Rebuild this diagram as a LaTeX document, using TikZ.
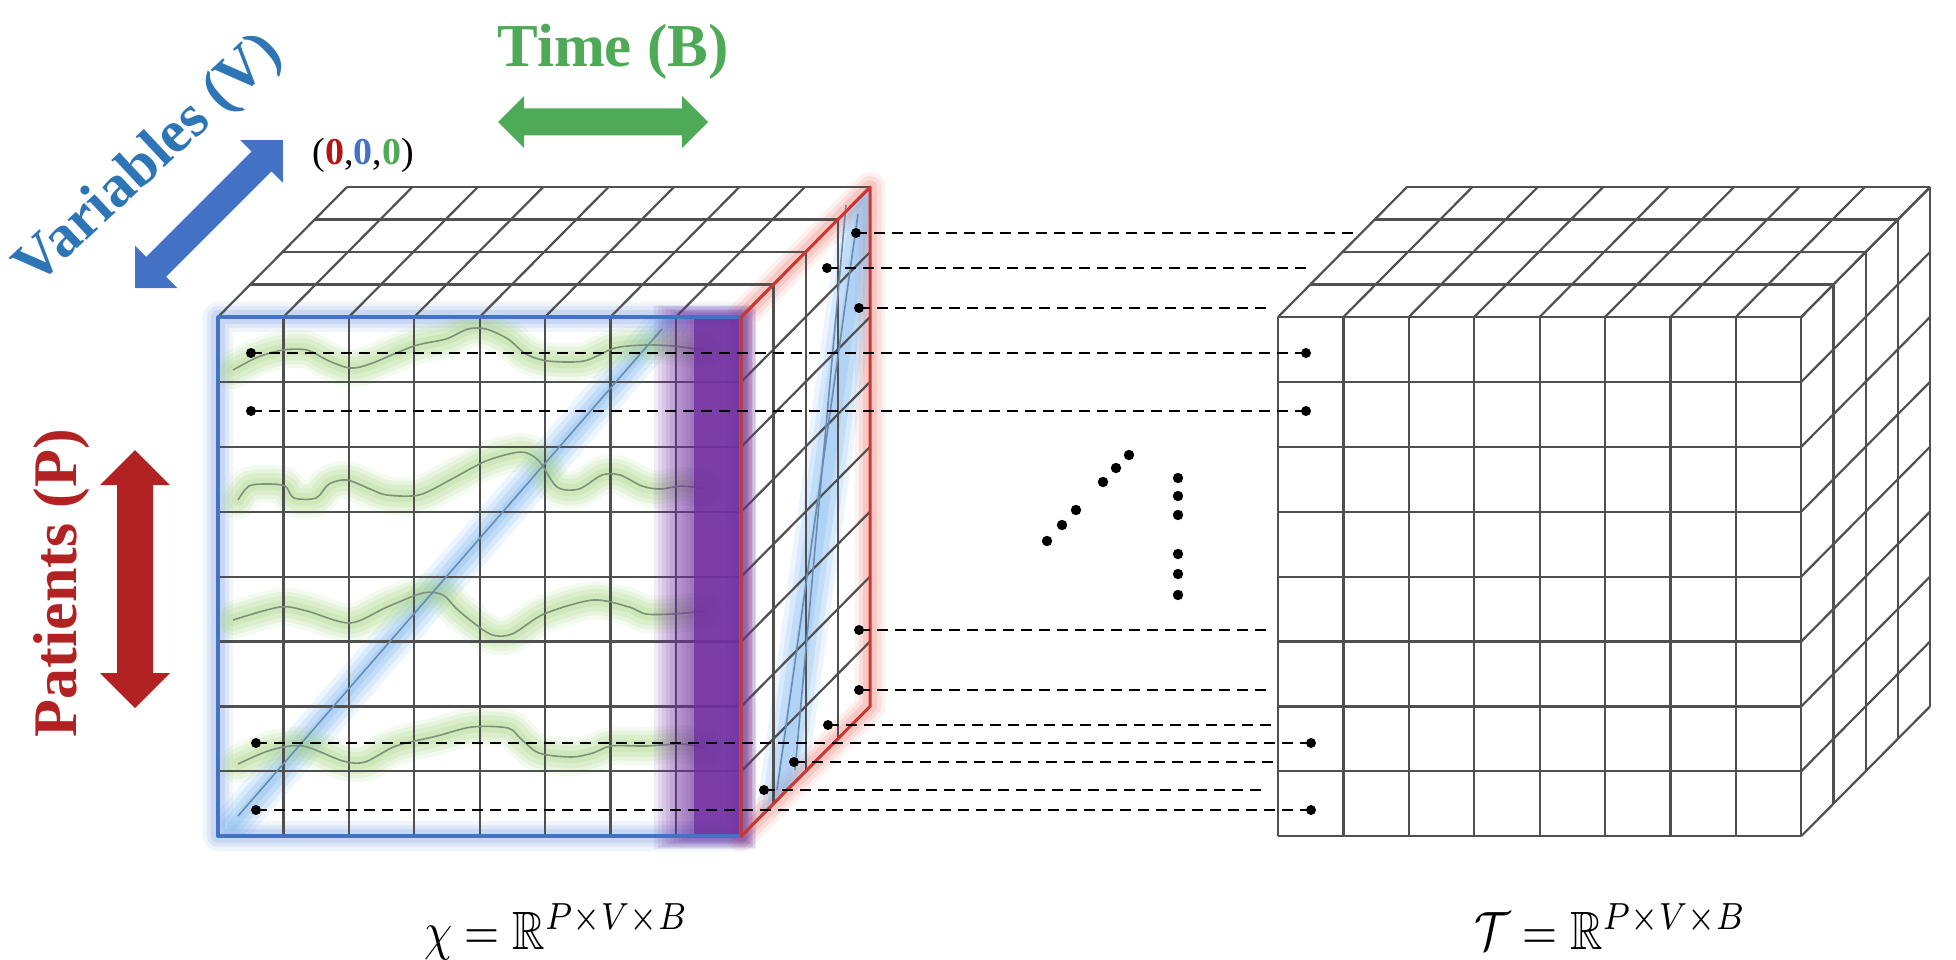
\documentclass[tikz,border=0pt]{standalone}
\usepackage{fontspec}
\setmainfont{Liberation Serif}
\usepackage{amssymb}
\usetikzlibrary{calc}
\definecolor{cgrid}{RGB}{80,80,80}
\definecolor{cgreen}{RGB}{78,170,86}
\definecolor{cblueT}{RGB}{46,117,182}
\definecolor{cblue}{RGB}{68,114,196}
\definecolor{cred}{RGB}{178,34,34}
\definecolor{czred}{RGB}{180,20,20}
\definecolor{credline}{RGB}{205,55,50}
\definecolor{cpurple}{RGB}{112,48,160}
\definecolor{cgreenglow}{RGB}{160,210,120}
\definecolor{cblueglow}{RGB}{120,180,238}
\definecolor{cframeglow}{RGB}{110,150,225}
\definecolor{credglow}{RGB}{235,110,100}
\definecolor{cwave}{RGB}{125,145,125}
\definecolor{cdiag}{RGB}{105,140,175}
\newcommand\cellw{65.4}
\newcommand\cellh{64.9}
\newcommand\dpx{32.25}
\newcommand\dpy{32.5}
\newcommand\drawcubegrid[2]{%
 \foreach \i in {0,...,8}{
   \draw[gridline] ({#1+\i*\cellw},{#2}) -- ({#1+\i*\cellw},{#2+8*\cellh});
   \draw[gridline] ({#1},{#2+\i*\cellh}) -- ({#1+8*\cellw},{#2+\i*\cellh});
   \draw[gridline] ({#1+\i*\cellw},{#2}) -- ({#1+\i*\cellw+4*\dpx},{#2-4*\dpy});
   \draw[gridline] ({#1+8*\cellw},{#2+\i*\cellh}) -- ({#1+8*\cellw+4*\dpx},{#2+\i*\cellh-4*\dpy});
 }
 \foreach \k in {1,...,4}{
   \draw[gridline] ({#1+\k*\dpx},{#2-\k*\dpy}) -- ({#1+8*\cellw+\k*\dpx},{#2-\k*\dpy});
   \draw[gridline] ({#1+8*\cellw+\k*\dpx},{#2-\k*\dpy}) -- ({#1+8*\cellw+\k*\dpx},{#2+8*\cellh-\k*\dpy});
 }
}
\newcommand\dblarrow[4]{\fill[#1] (0,0) -- (#4,-#4) -- (#4,-#3) -- ({#2-#4},-#3) -- ({#2-#4},-#4) -- (#2,0) -- ({#2-#4},#4) -- ({#2-#4},#3) -- (#4,#3) -- (#4,#4) -- cycle;}
\tikzset{
 gridline/.style={draw=cgrid, line width=2.2pt},
 dashline/.style={draw=black, line width=2.2pt, dash pattern=on 11pt off 7pt},
 dotmark/.style={fill=black},
 biglab/.style={inner sep=0pt, font=\fontsize{60}{72}\selectfont\bfseries},
 mathlab/.style={inner sep=0pt, anchor=base west},
 waveA/.style={insert path={plot[smooth] coordinates {(233,370) (258,357) (283,350) (307,350) (329,361) (350,368) (370,364) (414,346) (446,339) (468,329) (486,329) (508,339) (526,354) (548,361) (584,361) (615,348) (646,345) (673,346) (704,350)}}},
 waveB/.style={insert path={plot[smooth] coordinates {(238,500) (249,486) (267,484) (285,486) (294,498) (316,498) (329,484) (347,480) (370,489) (387,495) (419,495) (450,480) (486,461) (521,452) (539,461) (557,487) (579,489) (602,475) (620,475) (642,486) (660,489) (682,486) (704,489)}}},
 waveC/.style={insert path={plot[smooth] coordinates {(233,620) (280,607) (307,611) (350,623) (387,607) (423,593) (443,595) (459,611) (490,634) (512,634) (544,614) (593,600) (629,607) (646,614) (673,614) (704,611)}}},
 waveD/.style={insert path={plot[smooth] coordinates {(238,764) (271,750) (303,746) (343,761) (365,762) (396,746) (437,736) (472,727) (508,728) (521,739) (539,753) (571,757) (593,753) (611,746) (646,746) (682,744) (704,748)}}},
}
\begin{document}
\begin{tikzpicture}[x=1pt,y=-1pt,line join=round]
\useasboundingbox (0,0) rectangle (1956,960);
% ---------- glows of the frames
\foreach \w/\o in {30/0.10,22/0.14,14/0.2}{
  \draw[cframeglow, line width=\w pt, draw opacity=\o] (218,317) rectangle (741.2,836.2);
  \draw[credglow, line width=\w pt, draw opacity=\o] (741.2,317) -- (870.2,187) -- (870.2,706.2) -- (741.2,836.2) -- cycle;
}
% ---------- highlights on the front face
\begin{scope}
\clip (218,317) rectangle (741.2,836.2);
\foreach \w/\o in {40/0.14,30/0.18,20/0.22,10/0.25}{
  \draw[cblueglow, line width=\w pt, draw opacity=\o, line cap=round] (232,826) -- (668,322);
}
\foreach \wv in {waveA,waveB,waveC,waveD}{
  \foreach \w/\o in {38/0.12,30/0.15,22/0.18,12/0.22}{
    \draw[cgreenglow, line width=\w pt, draw opacity=\o, line cap=round, \wv];
  }
}
\end{scope}
% ---------- highlight on the side face
\begin{scope}
\clip (741.2,317) -- (870.2,187) -- (870.2,706.2) -- (741.2,836.2) -- cycle;
\foreach \w/\o in {46/0.14,36/0.18,26/0.22,14/0.25}{
  \draw[cblueglow, line width=\w pt, draw opacity=\o] (866,188) -- (776,836);
}
\end{scope}
% ---------- grids
\drawcubegrid{218}{317}
\drawcubegrid{1278}{317}
% ---------- thin lines
\foreach \wv in {waveA,waveB,waveC,waveD}{
  \draw[cwave, line width=1.6pt, \wv];
}
\draw[cdiag, line width=1.6pt] (238,816) -- (662,329);
\draw[cdiag, line width=1.6pt] (858,214) -- (777,790);
\draw[cdiag, line width=1.6pt] (846,205) -- (795,770);
% ---------- purple band
\foreach \i in {1,...,10}{
  \fill[cpurple, opacity=0.1] ({694-4*\i},{317-1.2*\i}) rectangle ({741+1.5*\i},{837+1.2*\i});
}
\fill[cpurple, opacity=0.8] (694,317) rectangle (741.2,836.2);
% ---------- frame lines
\draw[cblue, line width=3.5pt] (218,317) rectangle (741.2,836.2);
\draw[credline, line width=3pt] (741.2,317) -- (870.2,187) -- (870.2,706.2) -- (741.2,836.2) -- cycle;
% ---------- connectors
\coordinate (f1) at (251,353); \coordinate (r1) at (1306,353);
\coordinate (f2) at (251,411); \coordinate (r2) at (1306,411);
\coordinate (f3) at (256,743); \coordinate (r3) at (1311,743);
\coordinate (f4) at (256,810); \coordinate (r4) at (1311,810);
\foreach \a/\b in {f1/r1,f2/r2,f3/r3,f4/r4}{
  \draw[dashline] (\a) -- (\b);
  \fill[dotmark] (\a) circle (5);
  \fill[dotmark] (\b) circle (5);
}
\coordinate (s1) at (856,233); \coordinate (e1) at (1354,233);
\coordinate (s2) at (827,268); \coordinate (e2) at (1309,268);
\coordinate (s3) at (859,308); \coordinate (e3) at (1271,308);
\coordinate (s4) at (859,630); \coordinate (e4) at (1271,630);
\coordinate (s5) at (859,690); \coordinate (e5) at (1271,690);
\coordinate (s6) at (828,725); \coordinate (e6) at (1274,725);
\coordinate (s7) at (794,762); \coordinate (e7) at (1278,762);
\coordinate (s8) at (764,790); \coordinate (e8) at (1265,790);
\foreach \a/\b in {s1/e1,s2/e2,s3/e3,s4/e4,s5/e5,s6/e6,s7/e7,s8/e8}{
  \draw[dashline] (\a) -- (\b);
  \fill[dotmark] (\a) circle (5);
}
% ---------- ellipsis dots
\foreach \p in {(1047,541),(1062,525),(1076,510),(1103,482),(1116,468),(1129,455),(1178,478),(1178,496),(1178,515),(1178,554),(1178,574),(1178,595)}{
  \fill[dotmark] \p circle (5.2);
}
% ---------- axis labels and arrows
\node[biglab, text=cgreen, anchor=base, font=\fontsize{61}{72}\selectfont\bfseries] (timelab) at (613,67) {Time (B)};
\begin{scope}[shift={(498,122)}]\dblarrow{cgreen}{210}{13.5}{26}\end{scope}
\node[biglab, text=cblueT, anchor=base, rotate=43] (varlab) at (160,172) {Variables (V)};
\begin{scope}[shift={(135,288)},rotate=45]\dblarrow{cblue}{209}{14}{30}\end{scope}
\node[biglab, text=cred, anchor=base, rotate=90, font=\fontsize{62}{72}\selectfont\bfseries] (patlab) at (76,583) {Patients (P)};
\begin{scope}[shift={(135,708)},rotate=90]\dblarrow{cred}{258}{18}{35}\end{scope}
\node[inner sep=0pt, font=\fontsize{38}{44}\selectfont] (origin) at (363,155) {(\textcolor{czred}{\textbf{0}},\textcolor{cblue}{\textbf{0}},\textcolor{cgreen}{\textbf{0}})};
% ---------- tensor labels
\node[mathlab] (chilab) at (424,949) {\scalebox{4.5}[5.4]{\normalsize$\chi = \mathbb{R}^{P\times V\times B}$}};
\node[mathlab] (tlab) at (1474,949) {\scalebox{4.5}[5.4]{\normalsize$\mathcal{T} = \mathbb{R}^{P\times V\times B}$}};
\end{tikzpicture}
\end{document}
